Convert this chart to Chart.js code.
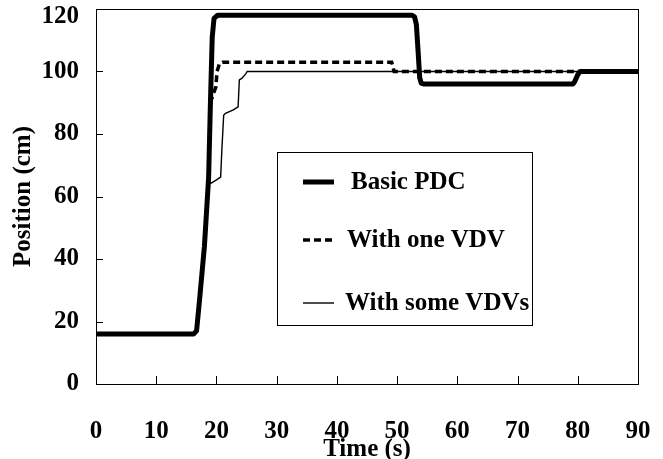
<!DOCTYPE html>
<html>
<head>
<meta charset="utf-8">
<script src="https://cdn.jsdelivr.net/npm/chart.js@4.4.0/dist/chart.umd.min.js"></script>
<style>
  html, body { margin: 0; padding: 0; background: #fff; }
  canvas { display: block; }
</style>
</head>
<body>
<canvas id="chart" width="663" height="459"></canvas>
<script>
// time (s) and position (cm) for each run
const basicTime = [0, 16.2, 16.7, 17.2, 18.0, 18.7, 19.0, 19.3, 19.6, 20.2, 52.5, 52.9, 53.2, 53.5, 53.75, 54.0, 54.4, 79.2, 79.5, 80.0, 80.4, 90];
const basicPos  = [16, 16, 17, 27, 44, 66, 90, 111, 117, 118, 118, 117.5, 115, 106, 98, 96.3, 96, 96, 96.8, 99, 100, 100];

const oneTime = [0, 16.2, 16.7, 17.2, 18.0, 18.7, 19.0, 19.5, 19.9, 20.1, 20.5, 21.0, 49.1, 49.5, 90];
const onePos  = [16, 16, 17, 27, 44, 66, 90, 93, 95, 100, 102.5, 103, 103, 100, 100];

const someTime = [0, 16.2, 16.7, 17.2, 18.0, 18.7, 19.2, 20.0, 20.7, 20.9, 21.2, 21.5, 22.8, 23.6, 23.8, 24.2, 24.9, 25.1, 90];
const somePos  = [16, 16, 17, 27, 44, 64, 64.4, 65.3, 66.2, 75, 86, 86.6, 87.7, 88.7, 97.3, 97.8, 99.3, 100, 100];

const seriesLabels = ['Basic PDC', 'With one VDV', 'With some VDVs'];
const xTicks = [0, 10, 20, 30, 40, 50, 60, 70, 80, 90];
const yTicks = [0, 20, 40, 60, 80, 100, 120];

const toPoints = (t, v) => t.map((x, i) => ({ x: x, y: v[i] }));
const FONT = '"Liberation Serif", "Times New Roman", serif';
const yMax = yTicks[yTicks.length - 1];

const framePlugin = {
  id: 'frame',
  beforeDraw(chart) {
    const ctx = chart.ctx;
    ctx.save();
    ctx.fillStyle = '#fff';
    ctx.fillRect(0, 0, chart.width, chart.height);
    ctx.restore();
  },
  afterDraw(chart) {
    const { ctx, chartArea: a, scales } = chart;
    ctx.save();
    ctx.strokeStyle = '#000';
    ctx.lineWidth = 1;
    ctx.strokeRect(Math.round(a.left) + 0.5, Math.round(a.top) + 0.5,
      Math.round(a.right - a.left), Math.round(a.bottom - a.top));
    // inward tick marks
    ctx.beginPath();
    xTicks.forEach(v => {
      if (v === 0 || v === 90) return;
      const px = Math.round(scales.x.getPixelForValue(v)) + 0.5;
      ctx.moveTo(px, a.bottom);
      ctx.lineTo(px, a.bottom - 8);
    });
    yTicks.forEach(v => {
      if (v === 0 || v === yMax) return;
      const py = Math.round(scales.y.getPixelForValue(v)) + 0.5;
      ctx.moveTo(a.left, py);
      ctx.lineTo(a.left + 7, py);
    });
    ctx.stroke();

    ctx.font = 'bold 25px ' + FONT;
    ctx.fillStyle = '#000';
    // top y label sits a little lower so it is not clipped
    ctx.textAlign = 'right';
    ctx.textBaseline = 'middle';
    ctx.fillText(String(yMax), a.left - 17, scales.y.getPixelForValue(yMax) + 8);

    // legend box
    const box = { x: 277.5, y: 152.5, w: 255, h: 173 };
    const rowY = [182, 240, 303];
    const textX = [351, 347, 345];
    ctx.strokeRect(box.x, box.y, box.w, box.h);
    chart.data.datasets.forEach((ds, i) => {
      ctx.beginPath();
      ctx.lineWidth = ds.borderWidth;
      ctx.setLineDash(ds.borderDash || []);
      ctx.strokeStyle = ds.borderColor;
      ctx.moveTo(303, rowY[i]);
      ctx.lineTo(334, rowY[i]);
      ctx.stroke();
      ctx.setLineDash([]);
      ctx.textBaseline = 'middle';
      ctx.textAlign = 'left';
      ctx.fillText(ds.label, textX[i], rowY[i] + 1);
    });
    ctx.restore();
  }
};

new Chart(document.getElementById('chart'), {
  type: 'line',
  data: {
    datasets: [
      {
        label: seriesLabels[0],
        data: toPoints(basicTime, basicPos),
        borderColor: '#000',
        borderWidth: 5,
        borderJoinStyle: 'round',
        pointRadius: 0,
        tension: 0,
        fill: false
      },
      {
        label: seriesLabels[1],
        data: toPoints(oneTime, onePos),
        borderColor: '#000',
        borderWidth: 3.5,
        borderDash: [7, 4],
        pointRadius: 0,
        tension: 0,
        fill: false
      },
      {
        label: seriesLabels[2],
        data: toPoints(someTime, somePos),
        borderColor: '#000',
        borderWidth: 1.4,
        pointRadius: 0,
        tension: 0,
        fill: false
      }
    ]
  },
  options: {
    responsive: false,
    animation: false,
    devicePixelRatio: 1,
    layout: { padding: { top: 9, right: 25, left: 0, bottom: 0 } },
    plugins: {
      legend: { display: false },
      tooltip: { enabled: false }
    },
    scales: {
      x: {
        type: 'linear',
        min: 0,
        max: 90,
        afterBuildTicks: s => { s.ticks = xTicks.map(v => ({ value: v })); },
        grid: { display: false, drawTicks: false },
        border: { display: false },
        ticks: {
          padding: 33,
          color: '#000',
          maxRotation: 0,
          autoSkip: false,
          font: { family: FONT, size: 25, weight: 'bold' }
        },
        title: {
          display: true,
          text: 'Time (s)',
          color: '#000',
          padding: { top: 0, bottom: -3 },
          font: { family: FONT, size: 25, weight: 'bold', lineHeight: 1 }
        },
        afterFit: s => { s.height = 75; s.paddingLeft = 0; s.paddingRight = 0; }
      },
      y: {
        min: 0,
        max: yMax,
        afterBuildTicks: s => { s.ticks = yTicks.map(v => ({ value: v })); },
        grid: { display: false, drawTicks: false },
        border: { display: false },
        ticks: {
          padding: 17,
          color: '#000',
          autoSkip: false,
          callback: v => (v === yMax ? '' : v),
          font: { family: FONT, size: 25, weight: 'bold' }
        },
        title: {
          display: true,
          text: 'Position (cm)',
          color: '#000',
          padding: { top: 9, bottom: 0 },
          font: { family: FONT, size: 25, weight: 'bold' }
        },
        afterFit: s => { s.width = 96; s.paddingTop = 0; s.paddingBottom = 0; }
      }
    }
  },
  plugins: [framePlugin]
});
</script>
</body>
</html>
